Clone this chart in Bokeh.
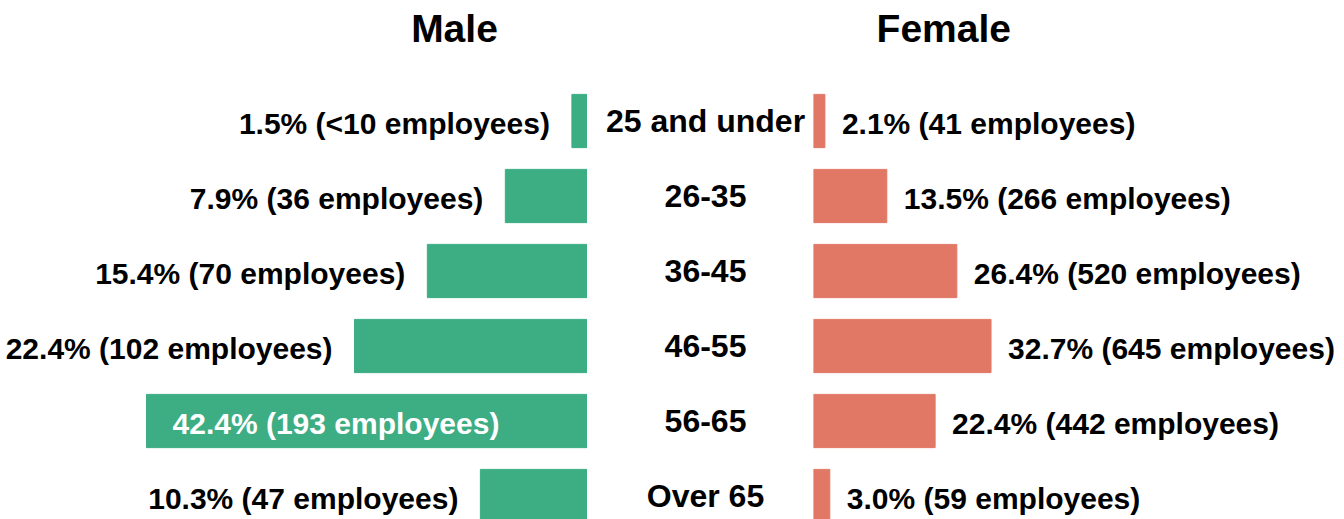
from bokeh.plotting import figure
from bokeh.layouts import row
from bokeh.models import ColumnDataSource, Range1d, Label
from bokeh.core.properties import value
from bokeh.embed import file_html
from bokeh.resources import INLINE

# ---- data ----
categories = ["25 and under", "26-35", "36-45", "46-55", "56-65", "Over 65"]
male_pct = [1.5, 7.9, 15.4, 22.4, 42.4, 10.3]
male_count = ["<10", "36", "70", "102", "193", "47"]
female_pct = [2.1, 13.5, 26.4, 32.7, 22.4, 3.0]
female_count = ["41", "266", "520", "645", "442", "59"]

GREEN = "#3DAD84"
SALMON = "#E17866"
FONT = "Liberation Sans"
H = 519
ypos = list(range(len(categories)))
y_range = Range1d(start=5.3133, end=-1.6067)


def base(width, xr):
    p = figure(width=width, height=H, x_range=xr, y_range=y_range,
               output_backend="svg", toolbar_location=None,
               min_border=0, min_border_left=0, min_border_right=0,
               min_border_top=0, min_border_bottom=0)
    p.axis.visible = False
    p.grid.visible = False
    p.outline_line_color = None
    p.background_fill_color = None
    p.border_fill_color = None
    return p


def lab(pcts, counts):
    return [f"{v:.1f}% ({c} employees)" for v, c in zip(pcts, counts)]


# ---- male ----
pm = base(587, Range1d(56.44, 0))
male_labels = lab(male_pct, male_count)
inside = [v > 30 for v in male_pct]
src_m = ColumnDataSource(dict(y=ypos, v=male_pct, lab=male_labels))
pm.hbar(y="y", right="v", left=0, height=0.71, color=GREEN, source=src_m)
out_idx = [i for i in ypos if not inside[i]]
in_idx = [i for i in ypos if inside[i]]
src_mo = ColumnDataSource(dict(y=[ypos[i] for i in out_idx],
                               v=[male_pct[i] for i in out_idx],
                               lab=[male_labels[i] for i in out_idx]))
src_mi = ColumnDataSource(dict(y=[ypos[i] for i in in_idx],
                               v=[male_pct[i] for i in in_idx],
                               lab=[male_labels[i] for i in in_idx]))
pm.text(x="v", y="y", text="lab", source=src_mo, text_align="right",
        text_baseline="middle", x_offset=-22, y_offset=2,
        text_font=value(FONT), text_font_style="bold",
        text_font_size="30px", text_color="#000000")
pm.text(x="v", y="y", text="lab", source=src_mi, text_align="left",
        text_baseline="middle", x_offset=26, y_offset=2,
        text_font=value(FONT), text_font_style="bold",
        text_font_size="30px", text_color="#FFFFFF")
pm.add_layout(Label(x=12.79, y=-1.24, text="Male", text_align="center",
                    text_baseline="middle", text_font=FONT,
                    text_font_style="bold", text_font_size="39px",
                    text_color="#000000"))

# ---- middle (categories) ----
pc = base(226, Range1d(0, 226))
src_c = ColumnDataSource(dict(y=ypos, x=[118] * len(categories), lab=categories))
pc.text(x="x", y="y", text="lab", source=src_c, text_align="center",
        text_baseline="middle", text_font=value(FONT), text_font_style="bold",
        text_font_size="32px", text_color="#000000")

# ---- female ----
pf = base(531, Range1d(0, 97.8))
src_f = ColumnDataSource(dict(y=ypos, v=female_pct,
                              lab=lab(female_pct, female_count)))
pf.hbar(y="y", right="v", left=0, height=0.71, color=SALMON, source=src_f)
pf.text(x="v", y="y", text="lab", source=src_f, text_align="left",
        text_baseline="middle", x_offset=17, y_offset=2,
        text_font=value(FONT), text_font_style="bold",
        text_font_size="30px", text_color="#000000")
pf.add_layout(Label(x=24.0, y=-1.24, text="Female", text_align="center",
                    text_baseline="middle", text_font=FONT,
                    text_font_style="bold", text_font_size="39px",
                    text_color="#000000"))

layout = row(pm, pc, pf, spacing=0)
open("out.html", "w").write(file_html(layout, INLINE))
